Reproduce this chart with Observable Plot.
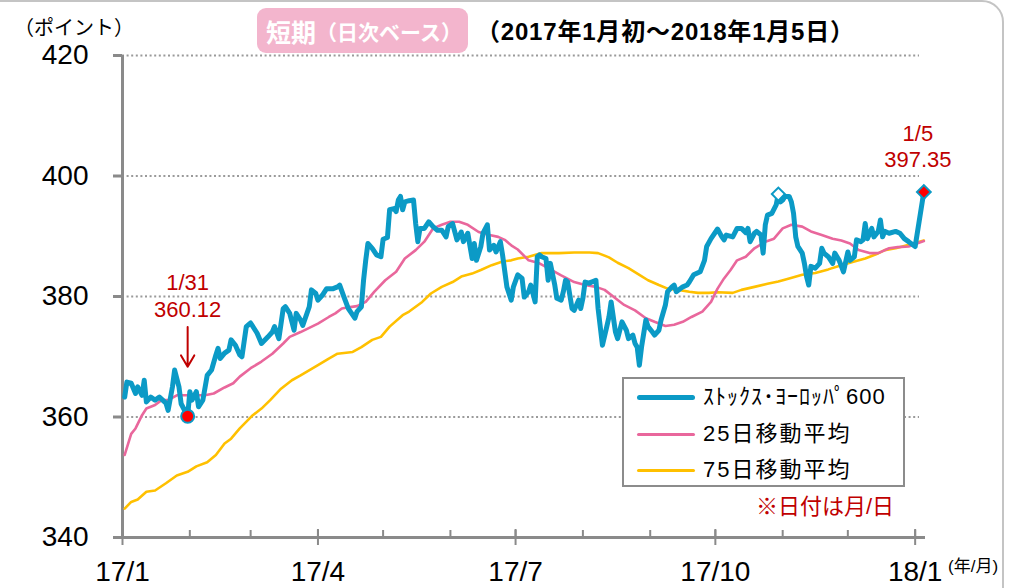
<!DOCTYPE html>
<html>
<head>
<meta charset="utf-8">
<script src="https://cdn.jsdelivr.net/npm/d3@7"></script>
<script src="https://cdn.jsdelivr.net/npm/@observablehq/plot@0.6"></script>
<style>
  body { margin: 0; background: #fff; }
  #wrap { position: relative; width: 1011px; height: 588px; overflow: hidden; background: #fff;
          font-family: "Liberation Sans", Arial, "Noto Sans CJK JP", sans-serif; }
  #frame { position: absolute; left: -20px; top: 0px; width: 1024px; height: 700px; box-sizing: border-box;
           border: 2px solid #c4c4c4; border-radius: 22px; }
  #chart { position: absolute; left: 0; top: 0; }
  .lbl { position: absolute; white-space: nowrap; line-height: 1; transform: translateY(-50%); }
  #legend { position: absolute; left: 622px; top: 377px; width: 283px; height: 110px; box-sizing: border-box;
            border: 2px solid #8c8c8c; background: #fff; }
  .row { position: absolute; left: 0; display: flex; align-items: center; transform: translateY(-50%); }
  .sw { display: inline-block; width: 58px; margin-left: 13px; margin-right: 8px; border-radius: 3px; }
  .lt { font-family: "Liberation Sans", Arial, "Noto Sans CJK JP", sans-serif; font-size: 22px; color: #000; line-height: 1; }
  #pill { position: absolute; left: 257px; top: 8px; width: 211px; height: 45px; background: #f3b5cd;
          border-radius: 9px; display: flex; align-items: center; color: #fff; font-weight: bold;
          font-family: "Noto Sans CJK JP", sans-serif; }
</style>
</head>
<body>
<div id="wrap">
  <div id="frame"></div>
  <div id="chart"></div>
</div>
<script>
// ---------------- data ----------------
const blueDates = [
"2017-01-02","2017-01-03","2017-01-05","2017-01-07","2017-01-08","2017-01-10","2017-01-11","2017-01-12","2017-01-14","2017-01-16",
"2017-01-18","2017-01-21","2017-01-22","2017-01-24","2017-01-25","2017-01-27","2017-01-28","2017-01-31","2017-02-01","2017-02-02",
"2017-02-04","2017-02-05","2017-02-07","2017-02-09","2017-02-11","2017-02-13","2017-02-14","2017-02-15","2017-02-17","2017-02-19",
"2017-02-20","2017-02-22","2017-02-24","2017-02-25","2017-02-27","2017-03-01","2017-03-04","2017-03-06","2017-03-09","2017-03-11",
"2017-03-12","2017-03-14","2017-03-16","2017-03-17","2017-03-19","2017-03-21","2017-03-22","2017-03-24","2017-03-25","2017-03-28",
"2017-03-29","2017-03-31","2017-04-01","2017-04-03","2017-04-05","2017-04-08","2017-04-10","2017-04-11","2017-04-13","2017-04-15",
"2017-04-18","2017-04-19","2017-04-21","2017-04-22","2017-04-23","2017-04-24","2017-04-26","2017-04-28","2017-04-30","2017-05-01",
"2017-05-03","2017-05-04","2017-05-06","2017-05-07","2017-05-08","2017-05-09","2017-05-10","2017-05-11","2017-05-13","2017-05-15",
"2017-05-16","2017-05-17","2017-05-18","2017-05-20","2017-05-22","2017-05-24","2017-05-26","2017-05-28","2017-05-30","2017-05-31",
"2017-06-02","2017-06-04","2017-06-06","2017-06-07","2017-06-09","2017-06-11","2017-06-12","2017-06-13","2017-06-15","2017-06-16",
"2017-06-18","2017-06-19","2017-06-21","2017-06-22","2017-06-24","2017-06-25","2017-06-27","2017-06-29","2017-06-30","2017-07-02",
"2017-07-04","2017-07-05","2017-07-07","2017-07-08","2017-07-10","2017-07-11","2017-07-12","2017-07-13","2017-07-15","2017-07-16",
"2017-07-17","2017-07-19","2017-07-20","2017-07-22","2017-07-23","2017-07-24","2017-07-25","2017-07-27","2017-07-28","2017-07-30",
"2017-07-31","2017-08-01","2017-08-02","2017-08-04","2017-08-05","2017-08-07","2017-08-08","2017-08-10","2017-08-12","2017-08-13",
"2017-08-14","2017-08-16","2017-08-17","2017-08-19","2017-08-21","2017-08-22","2017-08-24","2017-08-25","2017-08-26","2017-08-27",
"2017-08-28","2017-08-30","2017-08-31","2017-09-02","2017-09-03","2017-09-05","2017-09-06","2017-09-08","2017-09-09","2017-09-11",
"2017-09-12","2017-09-13","2017-09-16","2017-09-18","2017-09-19","2017-09-21","2017-09-24","2017-09-26","2017-09-27","2017-09-29",
"2017-10-02","2017-10-04","2017-10-05","2017-10-06","2017-10-09","2017-10-11","2017-10-13","2017-10-15","2017-10-16","2017-10-17",
"2017-10-19","2017-10-20","2017-10-22","2017-10-23","2017-10-24","2017-10-25","2017-10-27","2017-10-29","2017-10-30","2017-10-31",
"2017-11-01","2017-11-02","2017-11-04","2017-11-05","2017-11-06","2017-11-07","2017-11-08","2017-11-10","2017-11-11","2017-11-12",
"2017-11-13","2017-11-14","2017-11-16","2017-11-18","2017-11-19","2017-11-20","2017-11-22","2017-11-24","2017-11-25","2017-11-27",
"2017-11-29","2017-12-01","2017-12-02","2017-12-04","2017-12-05","2017-12-07","2017-12-08","2017-12-09","2017-12-10","2017-12-12",
"2017-12-13","2017-12-15","2017-12-16","2017-12-17","2017-12-18","2017-12-20","2017-12-23","2017-12-25","2017-12-27","2017-12-29",
"2018-01-01","2018-01-05"];
const blueValues = [
363.3,365.8,365.6,363.9,365.0,363.6,366.1,362.5,363.3,362.8,
363.3,362.3,361.1,365.0,367.8,365.0,362.2,360.12,364.2,362.8,
364.2,361.7,362.8,366.9,367.8,370.3,371.4,369.7,370.6,371.1,
372.8,371.9,370.3,370.0,375.0,375.6,373.9,372.2,373.3,374.1,
375.0,373.0,378.0,378.3,377.2,374.4,377.2,376.1,375.2,378.3,
381.1,380.5,379.4,380.2,381.3,381.3,381.6,381.9,379.9,378.0,
376.4,377.5,378.3,382.7,386.0,388.8,388.0,386.9,386.6,389.5,
389.8,394.4,394.6,394.1,396.0,396.6,394.4,395.7,395.9,396.0,
392.1,389.1,391.3,391.3,392.4,391.6,391.0,391.0,389.9,391.6,
392.1,389.4,390.7,389.1,390.5,386.3,388.8,386.0,388.3,390.5,
391.9,387.7,388.5,387.4,389.1,386.9,381.6,379.4,381.6,383.6,
383.0,379.9,380.8,381.9,379.1,386.6,386.9,386.6,386.3,382.7,
385.5,382.0,379.7,379.4,380.8,382.7,382.4,378.0,377.7,379.4,
378.0,379.7,382.4,382.2,382.4,382.7,378.0,371.9,375.0,376.6,
379.1,374.1,373.0,375.8,374.4,373.0,373.6,372.2,371.6,368.6,
371.6,376.1,375.0,374.1,373.6,374.4,376.1,378.6,380.8,381.6,
381.9,380.8,381.6,381.9,382.4,383.6,384.1,386.0,388.3,389.6,
391.2,389.9,389.4,390.2,389.9,391.3,391.3,390.6,391.3,389.1,
390.5,390.8,390.2,387.2,391.9,393.5,393.8,395.2,397.0,395.7,
396.0,396.6,396.6,395.7,393.8,389.9,388.3,387.2,385.5,383.3,
381.9,385.0,384.7,385.5,388.0,387.2,386.6,385.5,387.2,386.0,
384.1,387.4,386.0,386.6,389.4,389.1,389.4,392.1,389.6,391.3,
389.9,390.8,392.7,389.9,390.8,390.5,390.8,390.5,389.6,389.1,
388.3,397.35];

const ma25Dates = [
"2017-01-02","2017-01-05","2017-01-07","2017-01-10","2017-01-12","2017-01-16","2017-01-19","2017-01-22","2017-01-26","2017-01-31",
"2017-02-04","2017-02-08","2017-02-12","2017-02-17","2017-02-21","2017-02-24","2017-03-01","2017-03-06","2017-03-11","2017-03-16",
"2017-03-19","2017-03-24","2017-04-01","2017-04-06","2017-04-09","2017-04-12","2017-04-15","2017-04-19","2017-04-23","2017-04-27",
"2017-05-02","2017-05-07","2017-05-11","2017-05-16","2017-05-20","2017-05-24","2017-05-28","2017-06-01","2017-06-05","2017-06-09",
"2017-06-14","2017-06-19","2017-06-23","2017-06-26","2017-06-29","2017-07-02","2017-07-07","2017-07-12","2017-07-16","2017-07-22",
"2017-07-28","2017-08-02","2017-08-07","2017-08-11","2017-08-16","2017-08-20","2017-08-25","2017-08-30","2017-09-03","2017-09-08",
"2017-09-12","2017-09-16","2017-09-20","2017-09-25","2017-09-29","2017-10-02","2017-10-05","2017-10-08","2017-10-11","2017-10-15",
"2017-10-19","2017-10-24","2017-10-28","2017-11-01","2017-11-05","2017-11-10","2017-11-14","2017-11-19","2017-11-24","2017-11-28",
"2017-12-02","2017-12-06","2017-12-11","2017-12-15","2017-12-20","2017-12-24","2017-12-29","2018-01-05"];
const ma25Values = [
353.7,357.2,358.1,360.3,361.4,362.0,362.8,362.8,363.6,363.6,
363.6,363.6,363.9,364.9,365.6,366.7,368.1,369.2,370.5,372.2,
373.3,374.1,375.5,376.6,377.2,378.0,378.2,378.4,379.1,380.8,
382.7,384.1,386.3,387.7,389.1,391.3,391.9,392.4,392.4,391.9,
390.7,390.2,389.9,389.4,388.5,387.8,386.0,385.5,384.7,383.5,
382.4,381.9,381.6,381.1,379.7,378.6,377.7,376.4,375.8,375.1,
375.3,375.8,376.6,377.5,379.1,381.3,383.0,384.4,386.0,386.6,
388.0,389.1,389.6,391.3,391.9,391.6,390.8,390.2,389.6,389.3,
388.8,387.7,387.2,387.2,388.0,388.2,388.3,389.2];

const ma75Dates = [
"2017-01-02","2017-01-05","2017-01-08","2017-01-12","2017-01-16","2017-01-21","2017-01-26","2017-01-31","2017-02-04","2017-02-09",
"2017-02-13","2017-02-17","2017-02-20","2017-02-24","2017-03-02","2017-03-06","2017-03-10","2017-03-15","2017-03-20","2017-03-24",
"2017-04-01","2017-04-06","2017-04-10","2017-04-17","2017-04-21","2017-04-26","2017-04-30","2017-05-04","2017-05-10","2017-05-13",
"2017-05-19","2017-05-23","2017-05-28","2017-06-02","2017-06-06","2017-06-11","2017-06-15","2017-06-20","2017-06-25","2017-06-29",
"2017-07-02","2017-07-07","2017-07-13","2017-07-21","2017-07-28","2017-08-04","2017-08-08","2017-08-13","2017-08-17","2017-08-22",
"2017-08-27","2017-08-31","2017-09-05","2017-09-09","2017-09-14","2017-09-19","2017-09-23","2017-09-28","2017-10-02","2017-10-09",
"2017-10-13","2017-10-19","2017-10-25","2017-10-30","2017-11-04","2017-11-10","2017-11-16","2017-11-22","2017-11-28","2017-12-04",
"2017-12-09","2017-12-14","2017-12-18","2017-12-23","2017-12-27","2018-01-05"];
const ma75Values = [
344.8,345.9,346.3,347.6,347.8,349.0,350.3,350.9,351.8,352.5,
353.7,355.6,356.4,358.1,360.3,361.4,362.8,364.7,366.1,366.9,
368.6,369.7,370.5,370.8,371.6,372.8,373.3,375.0,376.9,377.5,
379.1,380.5,381.6,382.4,383.3,383.8,384.4,385.2,385.8,386.0,
386.3,386.6,387.2,387.2,387.3,387.3,387.2,386.5,385.6,384.7,
383.6,382.7,381.9,381.3,381.1,380.8,380.6,380.6,380.7,380.6,
381.1,381.6,382.1,382.5,383.0,383.6,383.9,384.5,385.2,385.8,
386.3,387.0,387.7,388.0,388.4,389.3];

const yTicks = [340, 360, 380, 400, 420];
const gridValues = [360, 380, 400, 420];
const xDomain = ["2017-01-01", "2018-01-03"];
const xTickDates = ["2017-01-01", "2017-04-01", "2017-07-01", "2017-10-01", "2018-01-01"];
const xTickLabels = ["17/1", "17/4", "17/7", "17/10", "18/1"];
const monthTickDates = ["2017-01-01","2017-02-01","2017-03-01","2017-04-01","2017-05-01","2017-06-01","2017-07-01",
                        "2017-08-01","2017-09-01","2017-10-01","2017-11-01","2017-12-01","2018-01-01"];
const lowPoint  = [{date: "2017-01-31", value: 360.12, day: "1/31", text: "360.12"}];
const peakPoint = [{date: "2017-10-30", value: 397.0}];
const lastPoint = [{date: "2018-01-05", value: 397.35, day: "1/5", text: "397.35"}];
const legendLabels = ["ｽﾄｯｸｽ･ﾖｰﾛｯﾊﾟ600", "25日移動平均", "75日移動平均"];
const seriesColors = ["#0b9ac6", "#e9679c", "#ffc000"];

// ---------------- build ----------------
const parse = d3.utcParse("%Y-%m-%d");
const toSeries = (ds, vs) => ds.map((d, i) => ({date: parse(d), value: vs[i]}));
const blue = toSeries(blueDates, blueValues);
const ma25 = toSeries(ma25Dates, ma25Values);
const ma75 = toSeries(ma75Dates, ma75Values);
const pts = arr => arr.map(d => ({...d, date: parse(d.date)}));
const low = pts(lowPoint), peak = pts(peakPoint), last = pts(lastPoint);
const labelMap = new Map(xTickDates.map((d, i) => [+parse(d), xTickLabels[i]]));
const axisGray = "#8a8a8a";
const red = "#c00000";

const chart = Plot.plot({
  width: 1011, height: 588,
  marginTop: 55, marginBottom: 51, marginLeft: 122, marginRight: 92,
  style: {fontFamily: '"Liberation Sans", Arial, sans-serif', fontSize: "28px", color: "#000",
          background: "transparent", overflow: "visible"},
  x: {type: "utc", domain: xDomain.map(parse), ticks: xTickDates.map(parse),
      tickFormat: d => labelMap.get(+d), tickSize: 0, tickPadding: 24, label: null},
  y: {domain: [340, 420], ticks: yTicks, tickSize: 0, tickPadding: 34, label: null},
  marks: [
    Plot.ruleY(gridValues, {stroke: "#9a9a9a", strokeWidth: 2, strokeDasharray: "2,2.6"}),
    Plot.ruleX([parse(xDomain[0])], {stroke: axisGray, strokeWidth: 3}),
    Plot.ruleY([yTicks[0]], {stroke: axisGray, strokeWidth: 3, insetLeft: -7, insetRight: -6}),
    Plot.tickY(yTicks, {y: d => d, stroke: axisGray, strokeWidth: 3, insetLeft: -9, insetRight: 797}),
    Plot.tickX(monthTickDates.map(parse), {x: d => d, stroke: axisGray, strokeWidth: 2, insetTop: 475}),
    Plot.tickX(xTickDates.map(parse), {x: d => d, stroke: axisGray, strokeWidth: 2, insetTop: 474, insetBottom: -8}),
    Plot.line(ma75, {x: "date", y: "value", stroke: seriesColors[2], strokeWidth: 2.6}),
    Plot.line(ma25, {x: "date", y: "value", stroke: seriesColors[1], strokeWidth: 2.6}),
    Plot.line(blue, {x: "date", y: "value", stroke: seriesColors[0], strokeWidth: 5, strokeLinejoin: "round"}),
    Plot.arrow(low, {x1: "date", x2: "date", y1: d => d.value + 14.8, y2: d => d.value + 8.2,
                     stroke: red, strokeWidth: 2, headLength: 20, headAngle: 60}),
    Plot.dot(low, {x: "date", y: "value", r: 6.5, fill: "#ff0000", stroke: seriesColors[0], strokeWidth: 2}),
    Plot.dot(peak, {x: "date", y: "value", symbol: "square", rotate: 45, r: 5.2, fill: "#fff",
                    stroke: seriesColors[0], strokeWidth: 2}),
    Plot.dot(last, {x: "date", y: "value", symbol: "square", rotate: 45, r: 5.5, fill: "#ff0000",
                    stroke: seriesColors[0], strokeWidth: 2}),
    Plot.text(low, {x: "date", y: "value", text: "day", dy: -133, fill: red, fontSize: 22}),
    Plot.text(low, {x: "date", y: "value", text: "text", dy: -106, fill: red, fontSize: 22}),
    Plot.text(last, {x: "date", y: "value", text: "day", dx: -6, dy: -58, fill: red, fontSize: 22}),
    Plot.text(last, {x: "date", y: "value", text: "text", dx: -6, dy: -32, fill: red, fontSize: 22})
  ]
});
document.getElementById("chart").appendChild(chart);

// ---------------- text overlays ----------------
const wrap = document.getElementById("wrap");
function addLabel(text, left, cy, css) {
  const el = document.createElement("div");
  el.className = "lbl";
  el.textContent = text;
  el.style.left = left + "px";
  el.style.top = cy + "px";
  Object.assign(el.style, css || {});
  wrap.appendChild(el);
  return el;
}
addLabel("（ポイント）", 14, 27, {fontFamily: '"Noto Sans CJK JP", sans-serif', fontSize: "20px", color: "#000"});
const pill = document.createElement("div");
pill.id = "pill";
pill.innerHTML = '<span style="font-size:25px;margin-left:9px">短期</span><span style="font-size:21px">（日次ベース）</span>';
wrap.appendChild(pill);
addLabel("（2017年1月初～2018年1月5日）", 476, 32,
  {fontFamily: '"Liberation Sans", Arial, "Noto Sans CJK JP", sans-serif', fontSize: "24px", fontWeight: "bold",
   letterSpacing: "0.8px", color: "#000"});
addLabel("(年/月)", 948, 566, {fontFamily: '"Liberation Sans", Arial, "Noto Sans CJK JP", sans-serif', fontSize: "17px", color: "#000"});
addLabel("※日付は月/日", 756, 507, {fontFamily: '"Liberation Sans", Arial, "Noto Sans CJK JP", sans-serif', fontSize: "22px", color: red});

// legend
const legend = document.createElement("div");
legend.id = "legend";
const rowTops = [18, 55, 91];
const swH = [5, 3, 3];
legendLabels.forEach((t, i) => {
  const row = document.createElement("div");
  row.className = "row";
  row.style.top = rowTops[i] + "px";
  row.innerHTML = `<span class="sw" style="background:${seriesColors[i]};height:${swH[i]}px"></span>` +
                  `<span class="lt" style="letter-spacing:${i === 0 ? 1 : 2}px">${t}</span>`;
  legend.appendChild(row);
});
wrap.appendChild(legend);
</script>
</body>
</html>
